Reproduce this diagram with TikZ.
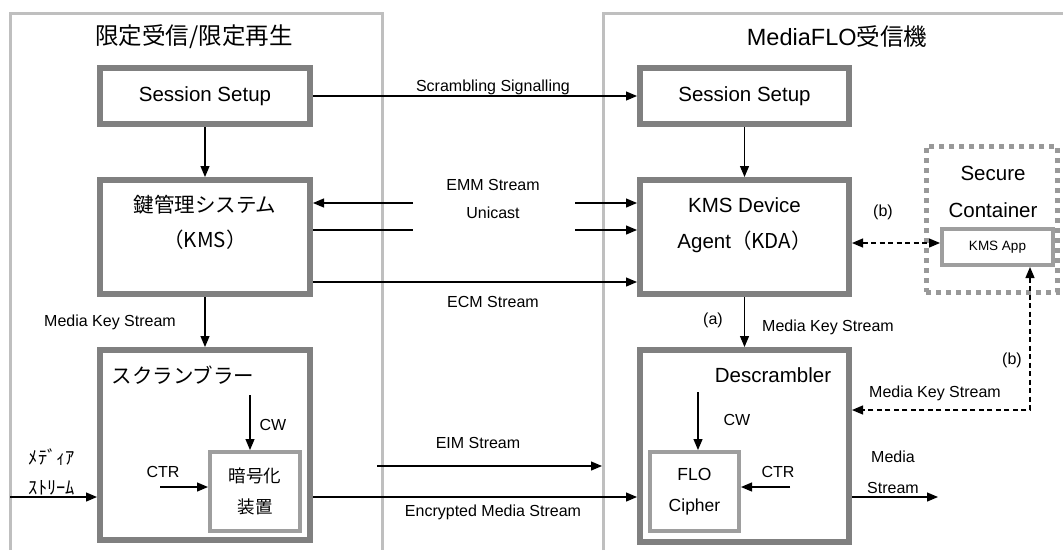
\documentclass[tikz,border=0pt]{standalone}
\usepackage{fontspec}
\setmainfont{Liberation Sans}
\newfontfamily\jp{Noto Sans CJK JP}
\usetikzlibrary{arrows.meta}

\tikzset{
  panel/.style={draw=black!25, line width=3pt},
  blockbox/.style={rectangle, draw=black!50, line width=6pt, fill=white, minimum width=210pt},
  innerbox/.style={rectangle, draw=black!38, line width=4pt, fill=white, align=center, font=\fontsize{17.5}{31}\selectfont},
  dotbox/.style={rectangle, draw=black!40, line width=5pt, dash pattern=on 5pt off 5pt},
  headtext/.style={font=\fontsize{23.5}{28}\selectfont},
  boxtext/.style={font=\fontsize{20.5}{24}\selectfont},
  lbl/.style={font=\fontsize{16}{19}\selectfont},
  smalltext/.style={font=\fontsize{13.5}{16}\selectfont},
  dashline/.style={dash pattern=on 5pt off 3.5pt}
}

\begin{document}
\begin{tikzpicture}[x=1pt, y=-1pt, line width=1.2pt, >={Triangle[length=11pt,width=9pt]}]
         \useasboundingbox (0,0) rectangle (1063,550);

         % the two sides
         \draw [panel] (10,550) -- (10,13) -- (382,13) -- (382,550);
         \draw [panel] (603,550) -- (603,13) -- (1063,13);
         \node [headtext] (headL) at (194,37) {\jp 限定受信/限定再生};
         \node [headtext] (headR) at (837,37) {MediaFLO{\jp 受信機}};

         % head end
         \node [blockbox, boxtext, minimum height=56pt] (setupL) at (205,96) {Session Setup};
         \node [blockbox, minimum height=114pt] (kms) at (205,237) {};
         \node [boxtext] (kmsA) at (205,205) {\jp 鍵管理システム};
         \node [boxtext] (kmsB) at (205,240) {\jp （KMS）};
         \node [blockbox, minimum height=190pt] (scr) at (205,445) {};
         \node [boxtext] (scrT) at (183,375) {\jp スクランブラー};
         \node [innerbox, minimum width=90pt, minimum height=79pt] (enc) at (255,491.5) {\jp 暗号化\\\jp 装置};

         % receiver
         \node [blockbox, boxtext, minimum width=209pt, minimum height=56pt] (setupR) at (744.5,96) {Session Setup};
         \node [blockbox, minimum width=209pt, minimum height=114pt] (kda) at (744.5,237) {};
         \node [boxtext] (kdaA) at (744.5,205) {KMS Device};
         \node [boxtext] (kdaB) at (744.5,242) {Agent{\jp（KDA）}};
         \node [blockbox, minimum width=209pt, minimum height=192pt] (desc) at (744.5,446) {};
         \node [boxtext] (descT) at (773,375) {Descrambler};
         \node [innerbox, minimum width=89pt, minimum height=79pt] (ciph) at (694.5,491.5) {FLO\\Cipher};
         \node [dotbox, minimum width=131pt, minimum height=146pt] (secure) at (991.5,219) {};
         \node [boxtext] (secA) at (993,173) {Secure};
         \node [boxtext] (secB) at (993,210) {Container};
         \node [innerbox, smalltext, minimum width=111pt, minimum height=36pt] (app) at (997.5,247) {KMS App};

         % free ends
         \coordinate (emmL) at (413,203);
         \coordinate (emmR) at (575,203);
         \coordinate (uniL) at (413,230);
         \coordinate (uniR) at (575,230);
         \coordinate (cwL) at (250,395);
         \coordinate (ctrL) at (160,487);
         \coordinate (inL) at (10,497);
         \coordinate (eimA) at (377,466);
         \coordinate (eimB) at (602,466);
         \coordinate (cwR) at (698,392);
         \coordinate (ctrR) at (790,487);
         \coordinate (outR) at (938,497);
         \coordinate (bend) at (1030,410);

         \draw [->] (setupL) -- (setupR);
         \draw [->] (setupL) -- (kms);
         \draw [->] (kms) -- (scr);
         \draw [->] (setupR) -- (kda);
         \draw [->] (kda) -- (desc);
         \draw [->] (emmL) -- (emmL -| kms.east);
         \draw [->] (emmR) -- (emmR -| kda.west);
         \draw (uniL -| kms.east) -- (uniL);
         \draw [->] (uniR) -- (uniR -| kda.west);
         \draw [->] (kms.east |- 0,282) -- (kda.west |- 0,282);
         \draw [->] (cwL) -- (cwL |- enc.north);
         \draw [->] (ctrL) -- (ctrL -| enc.west);
         \draw [->] (inL) -- (inL -| scr.west);
         \draw [->] (scr.east |- inL) -- (desc.west |- inL);
         \draw [->] (eimA) -- (eimB);
         \draw [->] (cwR) -- (cwR |- ciph.north);
         \draw [->] (ctrR) -- (ctrR -| ciph.east);
         \draw [->] (desc.east |- outR) -- (outR);
         \draw [<->, dashline] (kda.east |- 0,243) -- (app.west |- 0,243);
         \draw [<->, dashline] (app.south -| bend) -- (bend) -- (bend -| desc.east);

         % labels
         \node [lbl] (sigT) at (493,87) {Scrambling Signalling};
         \node [lbl] (emmT) at (493,185) {EMM Stream};
         \node [lbl] (uniT) at (493,213) {Unicast};
         \node [lbl] (ecmT) at (493,302) {ECM Stream};
         \node [lbl] (eimT) at (478,443) {EIM Stream};
         \node [lbl] (encT) at (493,512) {Encrypted Media Stream};
         \node [lbl] (mksL) at (110,322) {Media Key Stream};
         \node [lbl] (cwLT) at (273,425) {CW};
         \node [lbl] (ctrLT) at (163,472) {CTR};
         \node [lbl, font=\fontsize{18.5}{22}\selectfont] (inA) at (52,457) {\jp ﾒﾃﾞｨｱ};
         \node [lbl, font=\fontsize{18.5}{22}\selectfont] (inB) at (52,488) {\jp ｽﾄﾘｰﾑ};
         \node [lbl] (aT) at (713,320) {(a)};
         \node [lbl] (mksR) at (828,327) {Media Key Stream};
         \node [lbl] (cwRT) at (737,420) {CW};
         \node [lbl] (ctrRT) at (778,472) {CTR};
         \node [lbl] (outA) at (893,457) {Media};
         \node [lbl] (outB) at (893,488) {Stream};
         \node [lbl] (bA) at (883,212) {(b)};
         \node [lbl] (bB) at (1012,360) {(b)};
         \node [lbl] (mksD) at (935,393) {Media Key Stream};

        \end{tikzpicture}
\end{document}
